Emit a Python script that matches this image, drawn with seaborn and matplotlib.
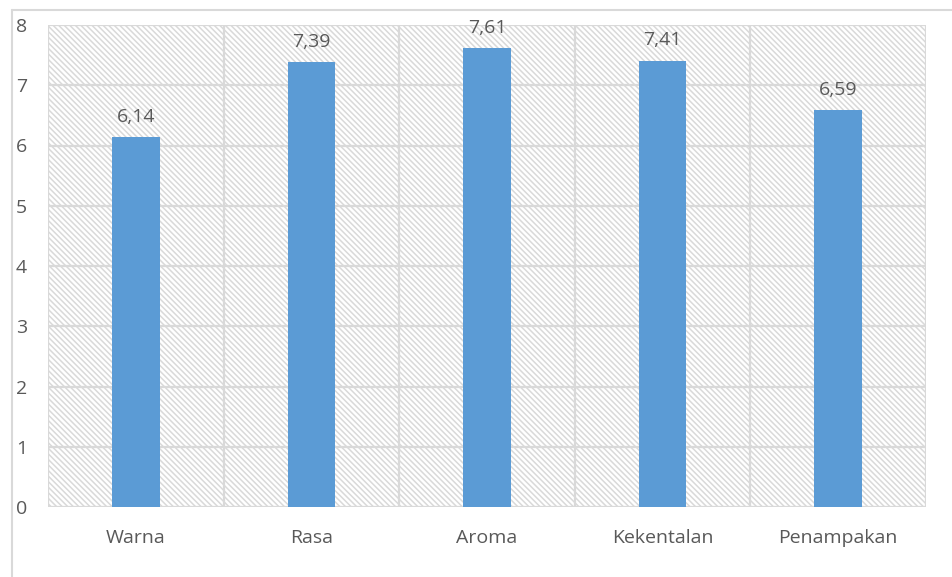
import numpy as np
import pandas as pd
import seaborn as sns
import matplotlib.pyplot as plt
from matplotlib.patches import Rectangle
from matplotlib.lines import Line2D

# Data
categories = ["Warna", "Rasa", "Aroma", "Kekentalan", "Penampakan"]
scores = [6.14, 7.39, 7.61, 7.41, 6.59]
y_ticks = [0, 1, 2, 3, 4, 5, 6, 7, 8]

df = pd.DataFrame({"kategori": categories, "nilai": scores})

sns.set_style("white")
plt.rcParams['font.family'] = ['Open Sans', 'DejaVu Sans']
plt.rcParams['hatch.color'] = '#e3e3e3'
plt.rcParams['hatch.linewidth'] = 1.1

grid_col = '#d9d9d9'
text_col = '#595959'
bar_col = '#5B9BD5'

fig = plt.figure(figsize=(9.53, 5.77), dpi=100)
ax = fig.add_axes([48/953, 1 - 507/577, (926 - 48)/953, (507 - 25)/577])

# hatched plot area background
ax.add_patch(Rectangle((0, 0), 1, 1, transform=ax.transAxes, facecolor='white',
                       edgecolor=grid_col, hatch='\\' * 6, linewidth=0, zorder=0))

sns.barplot(data=df, x="kategori", y="nilai", color=bar_col, width=0.27,
            saturation=1, linewidth=0, ax=ax, zorder=3)

ax.set_ylim(0, 8)
ax.set_xlim(-0.5, len(categories) - 0.5)
ax.set_yticks(y_ticks)

# grid lines: horizontal at ticks, vertical at category boundaries
for y in y_ticks:
    ax.axhline(y, color=grid_col, lw=1.6, zorder=1)
for i in range(len(categories) + 1):
    ax.axvline(i - 0.5, color=grid_col, lw=1.6, zorder=1)

for s in ax.spines.values():
    s.set_visible(False)

ax.set_xlabel("")
ax.set_ylabel("")
ax.tick_params(axis='y', length=0, pad=15, labelsize=14, labelcolor=text_col)
ax.tick_params(axis='x', length=0, pad=16, labelsize=14, labelcolor=text_col)

# value labels with decimal comma
for i, v in enumerate(scores):
    ax.annotate(f"{v:.2f}".replace('.', ','), (i, v), xytext=(0, 8),
                textcoords='offset points', ha='center', va='bottom',
                fontsize=14, color=text_col)

# outer chart border (left and top visible)
fig.add_artist(Line2D([12/953, 12/953], [0, 1 - 10/577], transform=fig.transFigure,
                      color=grid_col, lw=1.5))
fig.add_artist(Line2D([12/953, 1], [1 - 10/577, 1 - 10/577], transform=fig.transFigure,
                      color=grid_col, lw=1.5))

fig.savefig("out.png", dpi=100)
